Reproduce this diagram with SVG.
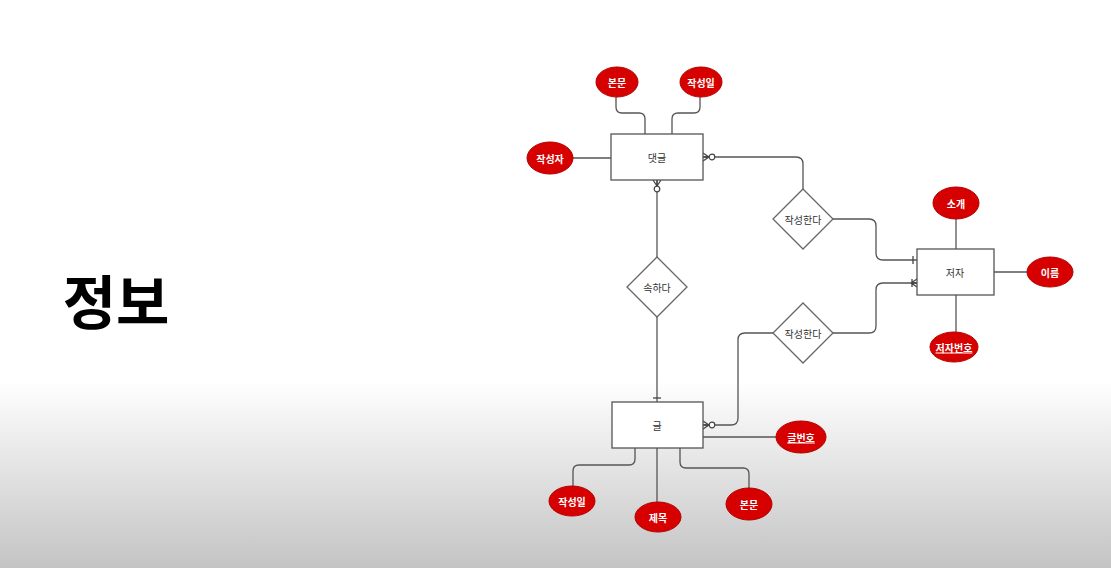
<svg xmlns="http://www.w3.org/2000/svg" width="1111" height="568" viewBox="0 0 1111 568">
<defs>
<linearGradient id="bg" x1="0" y1="0" x2="0" y2="1">
<stop offset="0" stop-color="#ffffff"/>
<stop offset="0.67" stop-color="#ffffff"/>
<stop offset="1" stop-color="#c4c4c4"/>
</linearGradient>
<g id="zeroMany"><path d="M0,-4 L6,0 M0,4 L6,0 M0,0 H6" fill="none" stroke="#444" stroke-width="1.3"/><circle cx="9" cy="0" r="2.8" fill="#fff" stroke="#444" stroke-width="1.2"/></g>
<g id="oneMany"><path d="M0,-4 L6,0 M0,4 L6,0 M0,0 H6 M5,-4 V4" fill="none" stroke="#444" stroke-width="1.3"/></g>
<g id="one"><path d="M4,-4 V4" fill="none" stroke="#444" stroke-width="1.3"/></g>
</defs>
<style>
.ent{fill:#fff;stroke:#555;stroke-width:1.3}
.rel{fill:#fff;stroke:#666;stroke-width:1.3}
.attr{fill:#d60000;stroke:#b30000;stroke-width:1}
.at{fill:#fff;font-family:"Noto Sans CJK KR","Noto Sans",sans-serif;font-size:10px;font-weight:bold;text-anchor:middle;dominant-baseline:central}
.lb{fill:#333;font-family:"Noto Sans CJK KR","Noto Sans",sans-serif;font-size:10px;text-anchor:middle;dominant-baseline:central}
.u{text-decoration:underline}
.ln{fill:none;stroke:#555;stroke-width:1.3}
</style>
<rect x="0" y="0" width="1111" height="568" fill="url(#bg)"/>
<text x="116" y="299" font-family="Noto Sans CJK KR,sans-serif" font-size="58" font-weight="bold" fill="#000" text-anchor="middle" dominant-baseline="central">정보</text>

<g id="connectors">
<path class="ln" d="M616,97 V107 Q616,113 622,113 H639 Q645,113 645,119 V134"/>
<path class="ln" d="M700,97 V107 Q700,113 694,113 H678 Q672,113 672,119 V134"/>
<path class="ln" d="M573,158 H611"/>
<path class="ln" d="M703,157 H796 Q803,157 803,164 V189"/>
<path class="ln" d="M833,219 H869 Q876,219 876,226 V253 Q876,260 883,260 H917"/>
<path class="ln" d="M657,180 V257"/>
<path class="ln" d="M657,317 V402"/>
<path class="ln" d="M833,333 H869 Q876,333 876,326 V290 Q876,283 883,283 H917"/>
<path class="ln" d="M773,333 H745 Q738,333 738,340 V418 Q738,425 731,425 H703"/>
<path class="ln" d="M703,437 H776"/>
<path class="ln" d="M657,448 V502"/>
<path class="ln" d="M680,448 V462 Q680,468 686,468 H743 Q749,468 749,474 V488"/>
<path class="ln" d="M635,448 V459 Q635,465 629,465 H579 Q573,465 573,471 V486"/>
<path class="ln" d="M956,219 V249"/>
<path class="ln" d="M994,272 H1027"/>
<path class="ln" d="M956,295 V332"/>
<use href="#zeroMany" transform="translate(703,157)"/>
<use href="#zeroMany" transform="translate(657,180) rotate(90)"/>
<use href="#zeroMany" transform="translate(703,425)"/>
<use href="#oneMany" transform="translate(917,283) rotate(180)"/>
<use href="#one" transform="translate(917,260) rotate(180)"/>
<use href="#one" transform="translate(657,402) rotate(-90)"/>
</g>

<g id="comment"><rect class="ent" x="611" y="134" width="92" height="46"/><text class="lb" x="657" y="157">댓글</text></g>
<g id="author"><rect class="ent" x="917" y="249" width="77" height="46"/><text class="lb" x="955" y="272">저자</text></g>
<g id="post"><rect class="ent" x="612" y="402" width="91" height="46"/><text class="lb" x="657" y="425">글</text></g>

<g id="writes1"><polygon class="rel" points="803,189 833,219 803,249 773,219"/><text class="lb" x="803" y="219">작성한다</text></g>
<g id="writes2"><polygon class="rel" points="803,303 833,333 803,363 773,333"/><text class="lb" x="803" y="333">작성한다</text></g>
<g id="belongs"><polygon class="rel" points="657,257 687,287 657,317 627,287"/><text class="lb" x="657" y="287">속하다</text></g>

<g id="c-body"><ellipse class="attr" cx="617" cy="82" rx="21" ry="15"/><text class="at" x="617" y="82">본문</text></g>
<g id="c-date"><ellipse class="attr" cx="701" cy="82" rx="21" ry="15"/><text class="at" x="701" y="82">작성일</text></g>
<g id="c-writer"><ellipse class="attr" cx="550" cy="158" rx="23" ry="16"/><text class="at" x="550" y="158">작성자</text></g>
<g id="a-intro"><ellipse class="attr" cx="956" cy="203" rx="23" ry="16"/><text class="at" x="956" y="203">소개</text></g>
<g id="a-name"><ellipse class="attr" cx="1050" cy="272" rx="23" ry="15"/><text class="at" x="1050" y="272">이름</text></g>
<g id="a-id"><ellipse class="attr" cx="954" cy="347" rx="24" ry="15"/><text class="at u" x="954" y="347">저자번호</text></g>
<g id="p-id"><ellipse class="attr" cx="801" cy="437" rx="25" ry="16"/><text class="at u" x="801" y="437">글번호</text></g>
<g id="p-title"><ellipse class="attr" cx="658" cy="517" rx="23" ry="15"/><text class="at" x="658" y="517">제목</text></g>
<g id="p-body"><ellipse class="attr" cx="749" cy="504" rx="23" ry="16"/><text class="at" x="749" y="504">본문</text></g>
<g id="p-date"><ellipse class="attr" cx="572" cy="501" rx="23" ry="15"/><text class="at" x="572" y="501">작성일</text></g>
</svg>
